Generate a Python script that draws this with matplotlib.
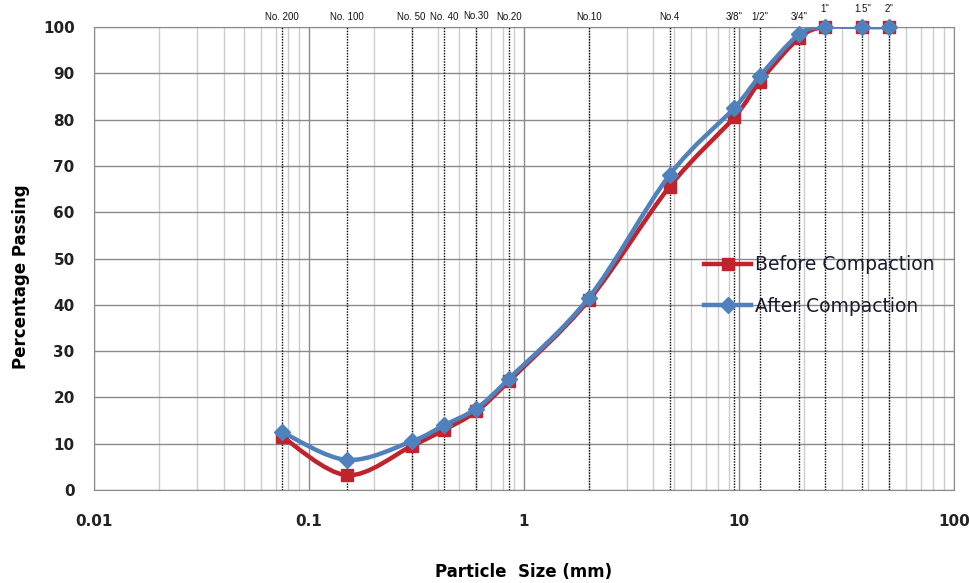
import numpy as np
import matplotlib.pyplot as plt
from matplotlib.path import Path
from matplotlib.patches import PathPatch
from matplotlib.lines import Line2D
from matplotlib.ticker import LogLocator, FixedLocator, NullFormatter

# sieve sizes (mm) and their names
sieve_mm = [0.075, 0.15, 0.3, 0.425, 0.6, 0.85, 2.0, 4.75, 9.5, 12.5, 19, 25, 37.5, 50]
sieve_names = ['No. 200', 'No. 100', 'No. 50', 'No. 40', 'No.30', 'No.20', 'No.10',
               'No.4', '3/8"', '1/2"', '3/4"', '1"', '1.5"', '2"']

# percentage passing
before = [11.5, 3.2, 9.5, 13.0, 17.0, 23.5, 41.0, 65.5, 80.5, 88.2, 97.6, 100, 100, 100]
after = [12.5, 6.5, 10.5, 14.0, 17.6, 24.0, 41.5, 68.0, 82.5, 89.4, 98.4, 100, 100, 100]

red = '#C0232B'
blue = '#4F81BD'


def smooth_path(x, y):
    # excel-like smoothed line: bezier through the points in log-x space
    u = np.log10(np.asarray(x, float))
    v = np.asarray(y, float)
    p = np.column_stack([u, v])
    n = len(p)
    verts = [p[0]]
    codes = [Path.MOVETO]
    for i in range(n - 1):
        p0 = p[i - 1] if i > 0 else p[i]
        p3 = p[i + 2] if i + 2 < n else p[i + 1]
        c1 = p[i] + (p[i + 1] - p0) / 6.0
        c2 = p[i + 1] - (p3 - p[i]) / 6.0
        verts += [c1, c2, p[i + 1]]
        codes += [Path.CURVE4] * 3
    verts = np.array(verts)
    verts[:, 0] = 10 ** verts[:, 0]
    return Path(verts, codes)


fig = plt.figure(figsize=(9.7, 5.83), dpi=100)
ax = fig.add_axes([0.097, 0.1595, 0.8865, 0.7942])

ax.set_xscale('log')
ax.set_xlim(0.01, 100)
ax.set_ylim(0, 100)

# grid
ax.xaxis.set_minor_locator(LogLocator(base=10, subs=np.arange(2, 10)))
ax.xaxis.set_minor_formatter(NullFormatter())
ax.grid(which='minor', axis='x', color='#cccccc', lw=1.0)
ax.grid(which='major', axis='x', color='#8a8a8a', lw=1.0)
ax.yaxis.set_major_locator(FixedLocator(np.arange(0, 101, 10)))
ax.grid(which='major', axis='y', color='#8a8a8a', lw=1.0)
ax.set_axisbelow(True)
ax.tick_params(which='both', length=0)
ax.tick_params(axis='x', pad=17, labelsize=11)
ax.tick_params(axis='y', pad=14, labelsize=11)
ax.set_xticks([0.01, 0.1, 1, 10, 100])
ax.set_xticklabels(['0.01', '0.1', '1', '10', '100'])
for lab in ax.get_xticklabels() + ax.get_yticklabels():
    lab.set_fontweight('bold')
    lab.set_color('#222222')
for s in ax.spines.values():
    s.set_color('#8a8a8a')

# sieve lines and labels
for xs, name in zip(sieve_mm, sieve_names):
    ax.axvline(xs, color='black', lw=1.0, ls=(0, (1, 1)), zorder=1.5)
    yl = 101.0
    if name in ('1"', '1.5"', '2"'):
        yl = 102.9
    elif name == 'No.30':
        yl = 101.4
    ax.text(xs, yl, name, ha='center', va='bottom', fontsize=7, color='#111111',
            family='Liberation Sans')

# series
ax.add_patch(PathPatch(smooth_path(sieve_mm, before), fill=False, edgecolor=red, lw=3.2,
                       zorder=3, capstyle='round'))
ax.plot(sieve_mm, before, ls='none', marker='s', ms=9, color=red, zorder=3.5, clip_on=False)
ax.add_patch(PathPatch(smooth_path(sieve_mm, after), fill=False, edgecolor=blue, lw=3.2,
                       zorder=4, capstyle='round'))
ax.plot(sieve_mm, after, ls='none', marker='D', ms=8.5, color=blue, zorder=4.5, clip_on=False)

handles = [Line2D([], [], color=red, lw=3.2, marker='s', ms=9),
           Line2D([], [], color=blue, lw=3.2, marker='D', ms=8.5)]
leg = ax.legend(handles, ['Before Compaction', 'After Compaction'], loc='upper left',
                bbox_to_anchor=(0.69, 0.543), frameon=False, fontsize=13.5,
                handlelength=2.5, labelspacing=1.2, handletextpad=0.2)
for t in leg.get_texts():
    t.set_color('#1a1a2e')

ax.set_xlabel('Particle  Size (mm)', fontsize=12, fontweight='bold', labelpad=25)
ax.set_ylabel('Percentage Passing', fontsize=12, fontweight='bold')
ax.yaxis.set_label_coords(-0.074, 0.46)

fig.savefig('out.png', dpi=100)
